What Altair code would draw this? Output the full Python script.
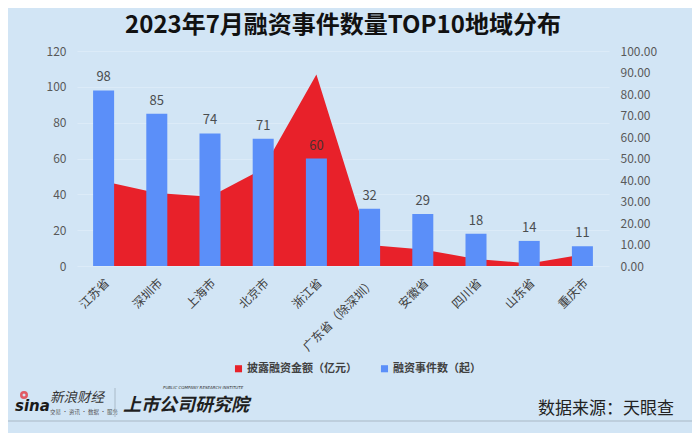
import altair as alt
import pandas as pd

# ---- data ----
regions = ["江苏省", "深圳市", "上海市", "北京市", "浙江省",
           "广东省（除深圳）", "安徽省", "四川省", "山东省", "重庆市"]
events = [98, 85, 74, 71, 60, 32, 29, 18, 14, 11]          # 融资事件数（起）, left axis
amounts = [39.4, 34.0, 32.2, 45.3, 89.1, 9.8, 7.7, 3.3, 1.2, 5.4]  # 披露融资金额（亿元）, right axis
series_names = ["披露融资金额（亿元）", "融资事件数（起）"]
series_colors = ["#e8212a", "#5b8ff9"]
left_ticks = [0, 20, 40, 60, 80, 100, 120]
right_ticks = [0, 10, 20, 30, 40, 50, 60, 70, 80, 90, 100]
title_text = "2023年7月融资事件数量TOP10地域分布"
source_text = "数据来源：天眼查"

df_amt = pd.DataFrame({"region": regions, "amount": amounts, "series": series_names[0]})
df_evt = pd.DataFrame({"region": regions, "events": events, "series": series_names[1]})

BG = "#d2e5f5"
FONT = "Noto Sans CJK SC"
one = alt.Data(values=[{"k": 1}])

x_enc = alt.X(
    "region:N", sort=regions,
    scale=alt.Scale(paddingInner=0.605, paddingOuter=0.3025),
    axis=alt.Axis(title=None, labelAngle=-45, labelFontSize=12, labelColor="#404040",
                  labelFont=FONT, ticks=False, domain=False, labelPadding=11, grid=False),
)

legend = alt.Legend(
    title=None, orient="none", legendX=156, legendY=312, direction="horizontal",
    symbolType="square", symbolSize=50, symbolStrokeWidth=0,
    labelFontSize=11, labelFontWeight="bold", labelColor="#404040", labelFont=FONT,
    columnPadding=22, labelOffset=3,
)
color_enc = alt.Color("series:N", scale=alt.Scale(domain=series_names, range=series_colors),
                      legend=legend)

area = alt.Chart(df_amt).mark_area(opacity=1).encode(
    x=x_enc,
    y=alt.Y("amount:Q", scale=alt.Scale(domain=[0, 100]),
            axis=alt.Axis(orient="right", values=right_ticks, format=".2f", title=None,
                          labelFontSize=12, labelColor="#595959", labelFont=FONT,
                          domain=False, ticks=False, grid=False, labelPadding=11)),
    color=color_enc,
)

bars = alt.Chart(df_evt).mark_bar().encode(
    x=x_enc,
    y=alt.Y("events:Q", scale=alt.Scale(domain=[0, 120]),
            axis=alt.Axis(orient="left", values=left_ticks, title=None,
                          labelFontSize=12, labelColor="#595959", labelFont=FONT,
                          domain=False, ticks=False, grid=True, gridColor="#dcebf8",
                          gridWidth=1, labelPadding=11)),
    color=color_enc,
)

labels = alt.Chart(df_evt).mark_text(baseline="alphabetic", dy=-9, fontSize=13,
                                     color="#333333", opacity=0.85, font=FONT).encode(
    x=x_enc,
    y=alt.Y("events:Q", scale=alt.Scale(domain=[0, 120]), axis=None),
    text=alt.Text("events:Q"),
)

# ---- footer decorations ----
sina = alt.Chart(one).mark_text(align="left", baseline="middle", fontSize=15,
                                fontWeight="bold", fontStyle="italic",
                                font="DejaVu Sans", color="#1a1a1a").encode(
    x=alt.value(-62), y=alt.value(355), text=alt.value("sina"))
sina_eye = alt.Chart(one).mark_point(filled=False, color="#e8212a", size=30,
                                     strokeWidth=2.5).encode(
    x=alt.value(-53), y=alt.value(344))
sina_cn = alt.Chart(one).mark_text(align="left", baseline="middle", fontSize=13.5,
                                   fontStyle="italic", font=FONT, color="#333333").encode(
    x=alt.value(-27), y=alt.value(347), text=alt.value("新浪财经"))
sina_tag = alt.Chart(one).mark_text(align="left", baseline="middle", fontSize=5.5,
                                    font=FONT, color="#555555").encode(
    x=alt.value(-27), y=alt.value(361), text=alt.value("交易 · 资讯 · 数据 · 服务"))
sep = alt.Chart(one).mark_rule(color="#a9bac8", strokeWidth=1).encode(
    x=alt.value(38), y=alt.value(337), y2=alt.value(366))
inst_en = alt.Chart(one).mark_text(align="left", baseline="middle", fontSize=4,
                                   fontStyle="italic", font="DejaVu Sans", color="#333333").encode(
    x=alt.value(86), y=alt.value(337), text=alt.value("PUBLIC COMPANY RESEARCH INSTITUTE"))
inst = alt.Chart(one).mark_text(align="left", baseline="middle", fontSize=18,
                                fontWeight="bold", fontStyle="italic", font=FONT,
                                color="#1f1f1f").encode(
    x=alt.value(46), y=alt.value(355), text=alt.value("上市公司研究院"))
source = alt.Chart(one).mark_text(align="right", baseline="middle", fontSize=17,
                                  font=FONT, color="#222222").encode(
    x=alt.value(597), y=alt.value(358), text=alt.value(source_text))
hline = alt.Chart(one).mark_rule(color="#a9b8c5", strokeWidth=1).encode(
    x=alt.value(-69), x2=alt.value(615), y=alt.value(370))

chart = alt.layer(
    area, bars, labels, sina, sina_eye, sina_cn, sina_tag, sep, inst_en, inst, source, hline
).resolve_scale(y="independent").properties(
    width=532, height=215,
    title=alt.TitleParams(title_text, fontSize=24, fontWeight="bold", font=FONT,
                          color="#111111", anchor="middle", offset=7),
    padding={"left": 69, "top": 43, "right": 83, "bottom": 167},
    autosize=alt.AutoSizeParams(type="none"),
    background=BG,
).configure_view(stroke=None)

chart.save("out.html", embed_options={"renderer": "svg", "actions": False})
